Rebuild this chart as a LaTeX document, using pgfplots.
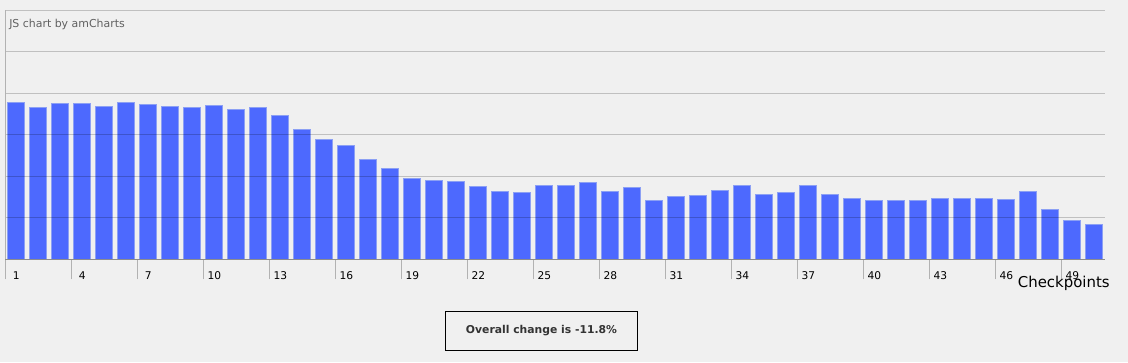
\documentclass[border=0pt]{standalone}
\usepackage{pgfplots}
\pgfplotsset{compat=1.18}
\usepackage{fontspec}
\setmainfont{DejaVu Sans}
\definecolor{bg}{HTML}{F0F0F0}
\definecolor{barfill}{HTML}{4D69FE}
\definecolor{barline}{HTML}{8CA0F4}
\definecolor{boxtext}{HTML}{333333}
\pgfplotstableread{
x y
1 3.78
2 3.66
3 3.76
4 3.76
5 3.69
6 3.78
7 3.73
8 3.69
9 3.66
10 3.71
11 3.61
12 3.66
13 3.47
14 3.13
15 2.89
16 2.75
17 2.41
18 2.19
19 1.95
20 1.90
21 1.88
22 1.76
23 1.64
24 1.61
25 1.78
26 1.78
27 1.86
28 1.64
29 1.73
30 1.42
31 1.52
32 1.54
33 1.66
34 1.78
35 1.57
36 1.61
37 1.79
38 1.57
39 1.47
40 1.42
41 1.42
42 1.42
43 1.47
44 1.47
45 1.47
46 1.45
47 1.64
48 1.20
49 0.94
50 0.84
}\checkpoints
\begin{document}
\begin{tikzpicture}[x=0.75pt,y=0.75pt]
\fill[bg] (0,0) rectangle (1128,362);
\begin{axis}[
  at={(3.975pt,77.025pt)}, anchor=south west,
  scale only axis, width=825pt, height=186.75pt,
  xmin=0.5, xmax=50.5, ymin=0, ymax=6,
  axis lines*=left, axis line style={-},
  x axis line style={draw=black!45, line width=0.75pt},
  y axis line style={draw=black!30, line width=0.75pt},
  axis on top,
  ytick={0,1,2,3,4,5,6}, yticklabels={}, ytick style={draw=none},
  ymajorgrids, major grid style={draw=black, opacity=0.2, line width=0.75pt},
  xtick={0.5,3.5,...,48.5},
  xticklabels={1,4,7,10,13,16,19,22,25,28,31,34,37,40,43,46,49},
  tick align=outside, major tick length=15pt,
  xtick style={draw=black!30, line width=0.75pt},
  xticklabel style={font=\fontsize{8}{9}\selectfont, text=black, xshift=8.25pt, yshift=9.5pt},
  xlabel={Checkpoints},
  xlabel style={at={(rel axis cs:1,0)}, anchor=base east, inner sep=0pt, xshift=3.5pt, yshift=-21.5pt, font=\fontsize{11.2}{13}\selectfont, text=black},
  ybar, bar width=13pt,
]
\addplot[fill=barfill, draw=barline, line width=0.75pt] table[x=x, y=y] {\checkpoints};
\end{axis}
\node[anchor=base west, inner sep=0pt, text=black!62, font=\fontsize{8.2}{10}\selectfont] at (9,334.5) {JS chart by amCharts};
\draw[black, line width=0.75pt, fill=bg] (445.3,12) rectangle (637.7,50.3);
\node[text=boxtext, font=\fontsize{8.1}{10}\selectfont\bfseries] at (541.5,31.2) {Overall change is -11.8\%};
\pgfresetboundingbox
\useasboundingbox (0,0) rectangle (1128,362);
\end{tikzpicture}
\end{document}
